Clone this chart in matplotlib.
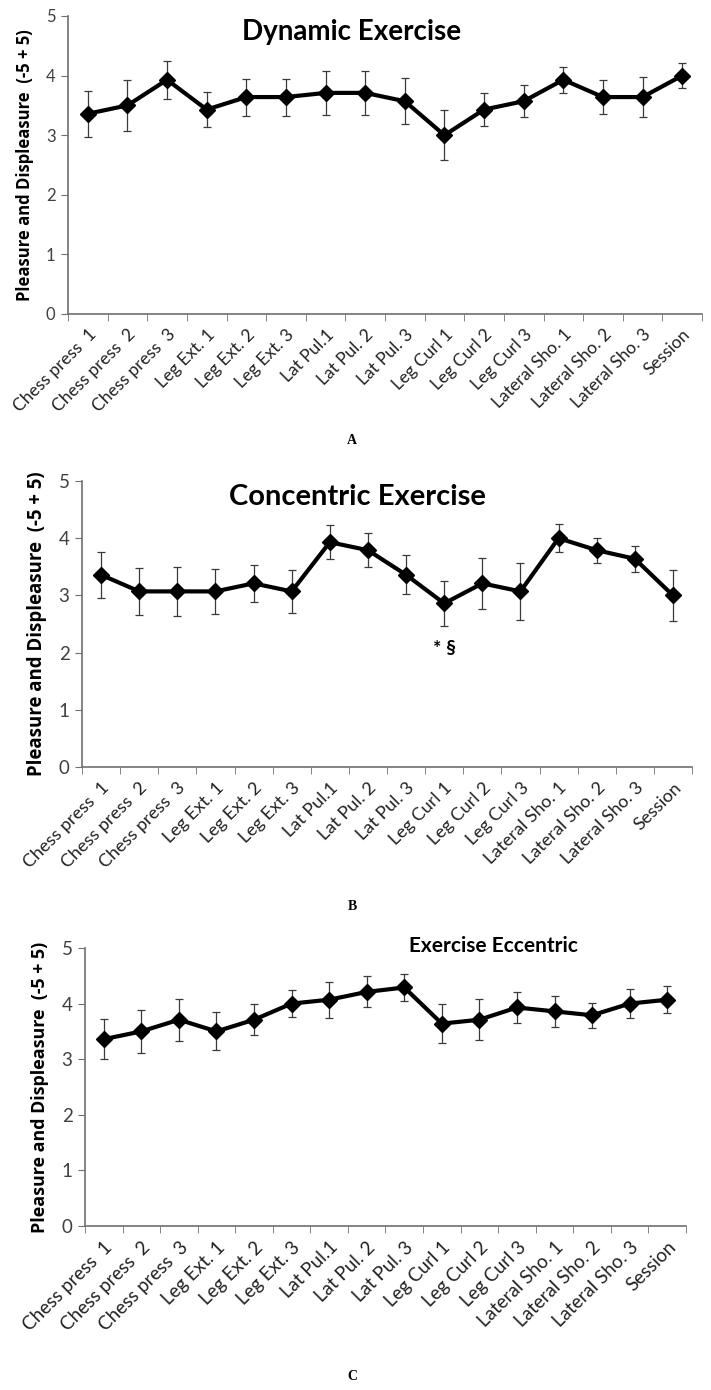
import numpy as np
import matplotlib
matplotlib.use("Agg")
import matplotlib.pyplot as plt
from matplotlib.ticker import FixedLocator

plt.rcParams["font.family"] = ["Lato", "DejaVu Sans"]

# ================================
# DATA
# ================================
categories = [
    "Chess press  1", "Chess press  2", "Chess press  3",
    "Leg Ext. 1", "Leg Ext. 2", "Leg Ext. 3",
    "Lat Pul.1", "Lat Pul. 2", "Lat Pul. 3",
    "Leg Curl 1", "Leg Curl 2", "Leg Curl 3",
    "Lateral Sho. 1", "Lateral Sho. 2", "Lateral Sho. 3", "Session",
]

dynamic_mean = [3.36, 3.50, 3.93, 3.43, 3.64, 3.64, 3.71, 3.71, 3.57, 3.00, 3.43, 3.57, 3.93, 3.64, 3.64, 4.00]
dynamic_err = [0.39, 0.43, 0.32, 0.30, 0.31, 0.31, 0.37, 0.37, 0.39, 0.42, 0.27, 0.27, 0.22, 0.29, 0.33, 0.21]

concentric_mean = [3.36, 3.07, 3.07, 3.07, 3.21, 3.07, 3.93, 3.79, 3.36, 2.86, 3.21, 3.07, 4.00, 3.79, 3.64, 3.00]
concentric_err = [0.40, 0.41, 0.43, 0.39, 0.33, 0.37, 0.30, 0.30, 0.34, 0.40, 0.45, 0.50, 0.24, 0.22, 0.23, 0.45]

eccentric_mean = [3.36, 3.50, 3.71, 3.50, 3.71, 4.00, 4.07, 4.21, 4.29, 3.64, 3.71, 3.93, 3.86, 3.79, 4.00, 4.07]
eccentric_err = [0.36, 0.38, 0.38, 0.34, 0.28, 0.24, 0.32, 0.28, 0.24, 0.35, 0.37, 0.27, 0.28, 0.22, 0.26, 0.24]

YLABEL = "Pleasure and Displeasure  (-5 + 5)"

# ================================
# FIGURE
# ================================
W, H = 711, 1390
fig = plt.figure(figsize=(W / 100, H / 100), dpi=100)


def px_axes(left, right, top, bottom):
    return [left / W, 1 - bottom / H, (right - left) / W, (bottom - top) / H]


def draw_panel(rect, mean, err, ylab_x, xfs, yfs, labfs):
    ax = fig.add_axes(rect)
    x = np.arange(len(categories))
    ax.errorbar(x, mean, yerr=err, fmt="none", ecolor="#3a3a3a",
                elinewidth=0.9, capsize=3, capthick=0.9, zorder=2)
    ax.plot(x, mean, color="black", lw=3, marker="D", ms=8, zorder=3)
    ax.set_xlim(-0.5, len(categories) - 0.5)
    ax.set_ylim(0, 5)
    ax.set_yticks(range(6))
    ax.set_xticks(x)
    ax.set_xticklabels(categories, rotation=45, ha="right",
                       rotation_mode="anchor", fontsize=xfs, color="#222222")
    ax.xaxis.set_minor_locator(FixedLocator(np.arange(-0.5, len(categories), 1.0)))
    ax.tick_params(axis="x", which="major", length=0, pad=9)
    ax.tick_params(axis="x", which="minor", length=5, color="#707070", direction="out")
    ax.tick_params(axis="y", length=5, color="#707070", labelsize=yfs,
                   labelcolor="#404040", pad=4)
    for s in ["top", "right"]:
        ax.spines[s].set_visible(False)
    for s in ["left", "bottom"]:
        ax.spines[s].set_color("#707070")
        ax.spines[s].set_linewidth(1.2)
    ax.set_ylabel(YLABEL, fontsize=labfs, fontweight="bold", family=["Open Sans", "DejaVu Sans"])
    ax.yaxis.set_label_coords(ylab_x, 0.5)
    return ax


axA = draw_panel(px_axes(68, 702, 16, 314), dynamic_mean, dynamic_err,
                 -0.054, 12.5, 12, 12)
axB = draw_panel(px_axes(82, 692, 481, 767), concentric_mean, concentric_err,
                 -0.057, 13, 13.5, 13.4)
axC = draw_panel(px_axes(85, 686, 948, 1226), eccentric_mean, eccentric_err,
                 -0.06, 13.5, 13.5, 12.9)

# titles
fig.text(352 / W, 1 - 32 / H, "Dynamic Exercise", ha="center", va="center",
         fontsize=20, fontweight="bold")
fig.text(357 / W, 1 - 497 / H, "Concentric Exercise", ha="center", va="center",
         fontsize=21, fontweight="bold")
fig.text(493 / W, 1 - 946 / H, "Exercise Eccentric", ha="center", va="center",
         fontsize=15, fontweight="bold")

# significance mark
axB.text(9, 2.08, "* §", ha="center", va="center", fontsize=14, fontweight="bold")

# panel letters
for lab, ypx in [("A", 440), ("B", 907), ("C", 1377)]:
    fig.text(352 / W, 1 - ypx / H, lab, ha="center", va="center",
             fontsize=10, fontweight="bold", family="Liberation Serif")

fig.savefig("out.png", dpi=100)
